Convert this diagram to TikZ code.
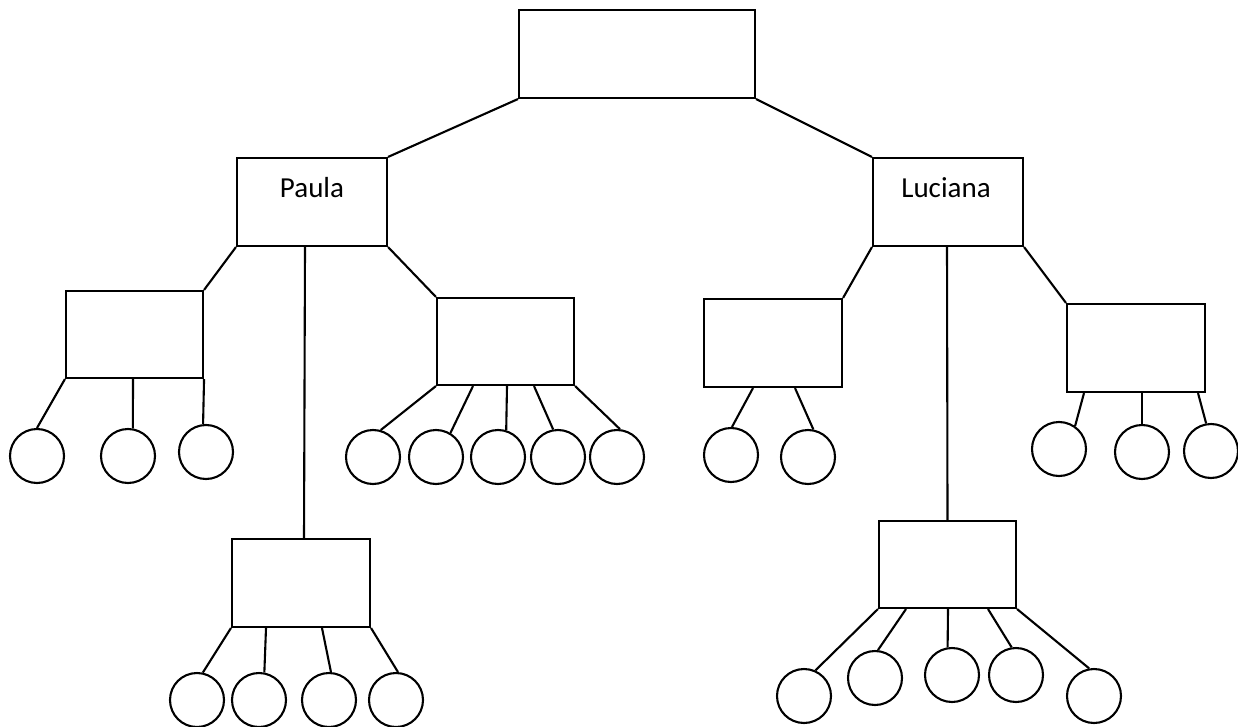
\documentclass[tikz,border=0pt]{standalone}
\usepackage{fontspec}
\setmainfont{Carlito}
\begin{document}
\begin{tikzpicture}[x=1pt,y=-1pt,
  box/.style={draw,line width=2.1pt,rectangle,inner sep=0pt},
  big/.style={box,minimum width=236pt,minimum height=88pt},
  mid/.style={box,minimum width=150pt,minimum height=88pt},
  sml/.style={box,minimum width=137pt,minimum height=87pt},
  leaf/.style={draw,line width=2.1pt,circle,minimum size=54pt,inner sep=0pt},
  lbl/.style={font=\fontsize{29}{34}\selectfont,inner sep=0pt},
  conn/.style={line width=2.1pt}]
\useasboundingbox (0,0) rectangle (1238,727);
% boxes
\node[big] (top) at (637,54) {};
\node[mid] (paula) at (312,202) {};
\node[lbl] (paulat) at (312,188) {Paula};
\node[mid] (luc) at (948,202) {};
\node[lbl] (luct) at (946,188) {Luciana};
\node[sml] (A) at (134.5,334.5) {};
\node[sml] (B) at (505.5,341.5) {};
\node[sml,minimum width=138pt,minimum height=88pt] (C) at (301,583) {};
\node[sml,minimum width=138pt,minimum height=88pt] (D) at (773,343) {};
\node[sml,minimum width=138pt,minimum height=88pt] (E) at (1136,348) {};
\node[sml] (F) at (947.5,564.5) {};
% circles
\node[leaf] (a1) at (37,456) {};
\node[leaf] (a2) at (128,456) {};
\node[leaf] (a3) at (206,452) {};
\node[leaf] (b1) at (373,457) {};
\node[leaf] (b2) at (436,457) {};
\node[leaf] (b3) at (498,457) {};
\node[leaf] (b4) at (558,457) {};
\node[leaf] (b5) at (617,457) {};
\node[leaf] (c1) at (197,700) {};
\node[leaf] (c2) at (259,700) {};
\node[leaf] (c3) at (329,700) {};
\node[leaf] (c4) at (396,700) {};
\node[leaf] (d1) at (731,455) {};
\node[leaf] (d2) at (808,457) {};
\node[leaf] (e1) at (1059,449) {};
\node[leaf] (e2) at (1142,452) {};
\node[leaf] (e3) at (1211,451) {};
\node[leaf] (f1) at (804,696) {};
\node[leaf] (f2) at (875,678) {};
\node[leaf] (f3) at (952,675) {};
\node[leaf] (f4) at (1016,675) {};
\node[leaf] (f5) at (1094,696) {};
% connectors between boxes
\draw[conn] (top.south west) -- (paula.north east);
\draw[conn] (top.south east) -- (luc.north west);
\draw[conn] (paula.south west) -- (A.north east);
\draw[conn] (paula.south east) -- (B.north west);
\draw[conn] ([xshift=-7pt]paula.south) -- ([xshift=3pt]C.north);
\draw[conn] (luc.south west) -- (D.north east);
\draw[conn] (luc.south east) -- (E.north west);
\draw[conn] ([xshift=-1pt]luc.south) -- (F.north);
% connectors to circles
\draw[conn] (A.south west) -- (a1.90);
\draw[conn] ([xshift=-1.5pt]A.south) -- (a2.80);
\draw[conn] (A.south east) -- (a3.96);
\draw[conn] (B.south west) -- (b1.74);
\draw[conn] ([xshift=-32.5pt]B.south) -- (b2.59);
\draw[conn] ([xshift=1.5pt]B.south) -- (b3.73);
\draw[conn] ([xshift=28.5pt]B.south) -- (b4.100);
\draw[conn] (B.south east) -- (b5.84);
\draw[conn] (C.south west) -- (c1.78);
\draw[conn] ([xshift=-35pt]C.south) -- (c2.79);
\draw[conn] ([xshift=21pt]C.south) -- (c3.86);
\draw[conn] (C.south east) -- (c4.86);
\draw[conn] ([xshift=-20pt]D.south) -- (d1.88);
\draw[conn] ([xshift=22pt]D.south) -- (d2.79);
\draw[conn] ([xshift=-52pt]E.south) -- (e1.55);
\draw[conn] ([xshift=6pt]E.south) -- (e2.90);
\draw[conn] ([xshift=62pt]E.south) -- (e3.100);
\draw[conn] (F.south west) -- (f1.66);
\draw[conn] ([xshift=-41.5pt]F.south) -- (f2.84);
\draw[conn] ([xshift=0.5pt]F.south) -- (f3.99);
\draw[conn] ([xshift=40.5pt]F.south) -- (f4.99);
\draw[conn] (F.south east) -- (f5.100);
\end{tikzpicture}
\end{document}
